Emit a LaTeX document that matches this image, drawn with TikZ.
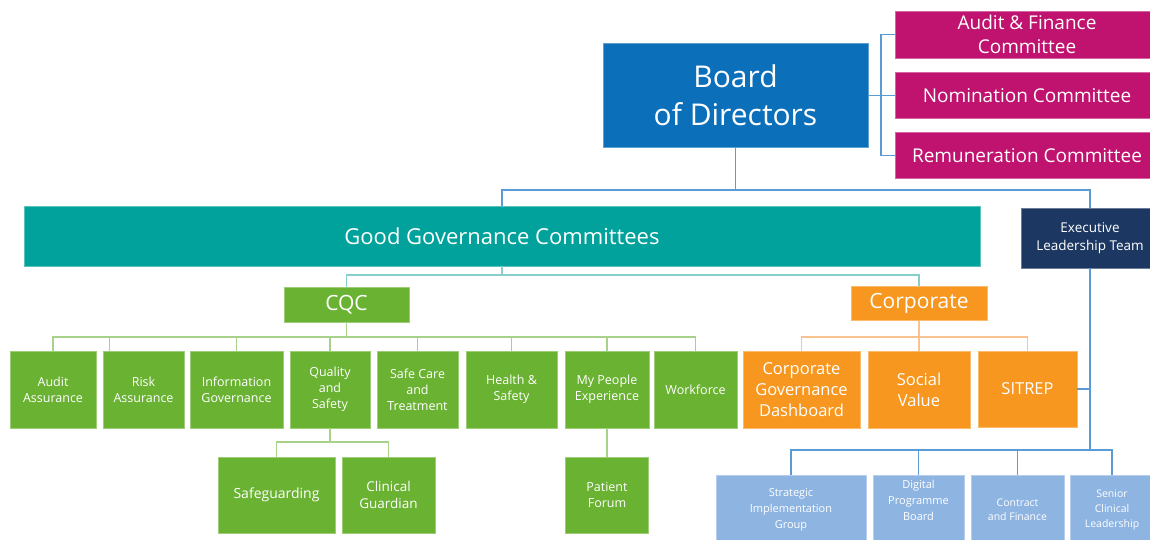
\documentclass[tikz,border=0pt]{standalone}
\usepackage{fontspec}
\setmainfont{Open Sans}
\usepackage{xcolor}

\definecolor{boardblue}{HTML}{0B6FBA}
\definecolor{commred}{HTML}{C0136F}
\definecolor{ggcteal}{HTML}{00A29B}
\definecolor{eltnavy}{HTML}{1C3862}
\definecolor{cqcgreen}{HTML}{6AB232}
\definecolor{corporange}{HTML}{F7971F}
\definecolor{eltblue}{HTML}{8EB4E2}
\definecolor{lnblue}{HTML}{5B9BD5}
\definecolor{lnteal}{HTML}{86CFCB}
\definecolor{lngreen}{HTML}{A8D28A}
\definecolor{lnorange}{HTML}{F9C28F}

\begin{document}
\begin{tikzpicture}[x=1pt, y=-1pt,
  box/.style={rectangle, fill=#1, draw=#1!65!white, line width=0.8pt,
    text=white, align=center, inner sep=0pt},
  link/.style={draw=#1, line width=1.1pt}]
  \useasboundingbox (0,0) rectangle (1150,540);

	% board and its committees
	\node[box=boardblue, minimum width=265, minimum height=104, font=\fontsize{30}{38}\selectfont] (board) at (735.5,95.5) {Board\\of Directors};
	\node[box=commred, minimum width=264, minimum height=47, font=\fontsize{19}{24}\selectfont] (afc) at (1027,34.5) {Audit \& Finance\\Committee};
	\node[box=commred, minimum width=264, minimum height=46, font=\fontsize{19}{24}\selectfont] (nom) at (1027,95.5) {Nomination Committee};
	\node[box=commred, minimum width=264, minimum height=46, font=\fontsize{19}{24}\selectfont] (rem) at (1027,155.5) {Remuneration Committee};

	% second level
	\node[box=ggcteal, minimum width=956, minimum height=60, font=\fontsize{22}{26}\selectfont] (ggc) at (502,236) {Good Governance Committees};
	\node[box=eltnavy, minimum width=138, minimum height=60, font=\fontsize{13.5}{18}\selectfont] (elt) at (1090,238) {Executive\\Leadership Team};
	\node[box=cqcgreen, minimum width=125, minimum height=35, font=\fontsize{21}{24}\selectfont] (cqc) at (346.5,304.5) {CQC};
	\node[box=corporange, minimum width=136, minimum height=34, font=\fontsize{21}{24}\selectfont] (corp) at (919,303.5) {Corporate};

	% CQC row
	\node[box=cqcgreen, minimum width=86, minimum height=77, font=\fontsize{12.5}{16}\selectfont] (aud) at (53,389.5) {Audit\\Assurance};
	\node[box=cqcgreen, minimum width=81, minimum height=77, font=\fontsize{12.5}{16}\selectfont] (risk) at (143.5,389.5) {Risk\\Assurance};
	\node[box=cqcgreen, minimum width=93, minimum height=77, font=\fontsize{12.5}{16}\selectfont] (info) at (236.5,389.5) {Information\\Governance};
	\node[box=cqcgreen, minimum width=80, minimum height=77, font=\fontsize{12.5}{16}\selectfont] (qual) at (330,389.5) {Quality\\and\\Safety};
	\node[box=cqcgreen, minimum width=81, minimum height=77, font=\fontsize{12.5}{16}\selectfont] (safe) at (417.5,389.5) {Safe Care\\and\\Treatment};
	\node[box=cqcgreen, minimum width=91, minimum height=77, font=\fontsize{12.5}{16}\selectfont] (hs) at (511.5,389.5) {Health \&\\Safety};
	\node[box=cqcgreen, minimum width=84, minimum height=77, font=\fontsize{12.5}{16}\selectfont] (mpe) at (607,389.5) {My People\\Experience};
	\node[box=cqcgreen, minimum width=83, minimum height=77, font=\fontsize{12.5}{16}\selectfont] (wf) at (695.5,389.5) {Workforce};

	\node[box=cqcgreen, minimum width=117, minimum height=76, font=\fontsize{14}{17}\selectfont] (sg) at (276.5,495) {Safeguarding};
	\node[box=cqcgreen, minimum width=93, minimum height=76, font=\fontsize{13.5}{17}\selectfont] (cg) at (388.5,495) {Clinical\\Guardian};
	\node[box=cqcgreen, minimum width=83, minimum height=76, font=\fontsize{12.5}{15.5}\selectfont] (pf) at (607,495) {Patient\\Forum};

	% corporate row
	\node[box=corporange, minimum width=117, minimum height=77, font=\fontsize{16.5}{21}\selectfont] (cgd) at (801.5,389.5) {Corporate\\Governance\\Dashboard};
	\node[box=corporange, minimum width=102, minimum height=77, font=\fontsize{16.5}{21}\selectfont] (sv) at (919,389.5) {Social\\Value};
	\node[box=corporange, minimum width=99, minimum height=76, font=\fontsize{16.5}{21}\selectfont] (sit) at (1027.5,389) {SITREP};

	% executive groups
	\node[box=eltblue, minimum width=150, minimum height=70, font=\fontsize{11}{16}\selectfont] (sig) at (791,510) {Strategic\\Implementation\\Group};
	\node[box=eltblue, minimum width=91, minimum height=70, font=\fontsize{11}{16}\selectfont] (dpb) at (918.5,510) {Digital\\Programme\\Board\\[4pt]};
	\node[box=eltblue, minimum width=93, minimum height=70, font=\fontsize{10.5}{14}\selectfont] (caf) at (1017.5,510) {Contract\\and Finance};
	\node[box=eltblue, minimum width=84, minimum height=70, font=\fontsize{10.5}{15}\selectfont] (scl) at (1112,510) {Senior\\Clinical\\Leadership};

	% connectors
	\coordinate (cbus) at (881,95.5);
	\draw[link=lnblue] (board.east) -- (nom.west);
	\draw[link=lnblue] (afc.west) -| (cbus) |- (rem.west);

	\coordinate (topbus) at (735.5,190);
	\draw[link=lnblue] (board.south) -- (topbus);
	\draw[link=lnblue] (ggc.north) |- (topbus) -| (elt.north);

	\coordinate (ggcbus) at (502,275);
	\draw[link=lnteal] (ggc.south) -- (ggcbus);
	\draw[link=lnteal] (cqc.north) |- (ggcbus) -| (corp.north);

	\coordinate (cqcbus) at (346.5,337);
	\draw[link=lngreen] (cqc.south) -- (cqcbus);
	\draw[link=lngreen] (aud.north) |- (cqcbus) -| (wf.north);
	\draw[link=lngreen] ([xshift=7]risk.north west) -- ([xshift=7]risk.north west |- cqcbus);
	\foreach \n in {info,qual,safe,hs,mpe}
		\draw[link=lngreen] (\n.north) -- (\n.north |- cqcbus);

	\coordinate (qbus) at (330,442);
	\draw[link=lngreen] (qual.south) -- (qbus);
	\draw[link=lngreen] (sg.north) |- (qbus) -| (cg.north);
	\draw[link=lngreen] (mpe.south) -- (pf.north);

	\coordinate (corpbus) at (919,337);
	\draw[link=lnorange] (corp.south) -- (corpbus);
	\draw[link=lnorange] (cgd.north) |- (corpbus) -| (sit.north);
	\draw[link=lnorange] (sv.north) -- (corpbus);

	\coordinate (eltbus) at (1090,450);
	\draw[link=lnblue] (elt.south) -- (eltbus);
	\draw[link=lnblue] (sig.north) |- (eltbus) -| (scl.north);
	\foreach \n in {dpb,caf}
		\draw[link=lnblue] (\n.north) -- (\n.north |- eltbus);
	\draw[link=lnblue] (sit.east) -- (sit.east -| elt.south);
\end{tikzpicture}
\end{document}
